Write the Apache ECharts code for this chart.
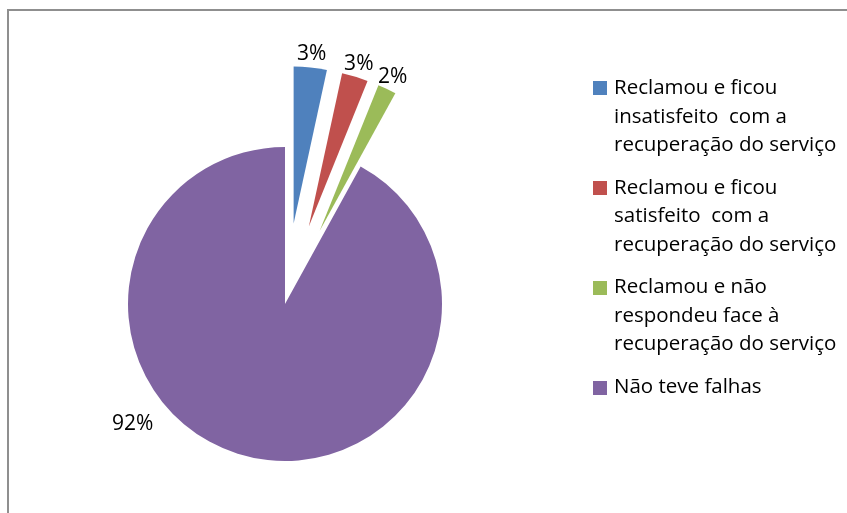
<!DOCTYPE html>
<html>
<head>
<meta charset="utf-8">
<script src="https://cdn.jsdelivr.net/npm/echarts@6/dist/echarts.min.js"></script>
<style>
html,body{margin:0;padding:0;background:#fff;}
#chart{width:847px;height:513px;}
</style>
</head>
<body>
<div id="chart"></div>
<script>
// ---- data ----
var categories = [
  'Reclamou e ficou insatisfeito com a recuperação do serviço',
  'Reclamou e ficou satisfeito com a recuperação do serviço',
  'Reclamou e não respondeu face à recuperação do serviço',
  'Não teve falhas'
];
var legendLines = [
  'Reclamou e ficou\ninsatisfeito  com a\nrecuperação do serviço',
  'Reclamou e ficou\nsatisfeito  com a\nrecuperação do serviço',
  'Reclamou e não\nrespondeu face à\nrecuperação do serviço',
  'Não teve falhas'
];
var values = [3.4, 2.7, 1.9, 92.0];
var exploded = [true, true, true, false];
var colors = ['#4F81BD', '#C0504D', '#9BBB59', '#8064A2'];

var FONT = '"Open Sans", Carlito, Lato, sans-serif';

var pieData = categories.map(function (c, i) {
  return { name: c, value: values[i], selected: exploded[i], itemStyle: { color: colors[i] } };
});

var chart = echarts.init(document.getElementById('chart'), null, { renderer: 'canvas' });
chart.setOption({
  animation: false,
  backgroundColor: '#ffffff',
  color: colors,
  graphic: [{
    type: 'rect',
    shape: { x: 8, y: 10, width: 1000, height: 700 },
    style: { fill: 'none', stroke: '#8f8f8f', lineWidth: 2 },
    silent: true
  }],
  legend: [{
    // icons
    orient: 'vertical',
    left: 593, top: 81,
    padding: 0,
    itemWidth: 14, itemHeight: 14,
    itemGap: 86,
    icon: 'rect',
    data: categories,
    formatter: function () { return ''; },
    textStyle: { fontSize: 8, lineHeight: 8 },
    itemStyle: { borderWidth: 0 }
  }, {
    // text
    orient: 'vertical',
    left: 609, top: 74,
    padding: 0,
    itemWidth: 0, itemHeight: 14,
    itemGap: 14,
    icon: 'none',
    data: categories,
    formatter: function (name) { return legendLines[categories.indexOf(name)]; },
    textStyle: { fontFamily: FONT, fontSize: 20.5, lineHeight: 28.5, color: '#000' }
  }],
  series: [{
    type: 'pie',
    center: [285, 304],
    radius: 157,
    startAngle: 90,
    clockwise: true,
    selectedMode: 'multiple',
    selectedOffset: 81,
    avoidLabelOverlap: false,
    emphasis: { scale: false, disabled: true },
    itemStyle: { borderWidth: 0 },
    label: {
      show: true,
      position: 'outside',
      fontFamily: FONT,
      fontSize: 21,
      color: '#000',
      distanceToLabelLine: 0,
      formatter: function (p) { return Math.round(p.percent) + '%'; }
    },
    labelLine: { show: false, length: 13, length2: 0 },
    labelLayout: function (p) {
      var o = { align: 'center', verticalAlign: 'middle' };
      if (p.dataIndex === 3) { o.dx = -110; o.dy = -45; }
      return o;
    },
    data: pieData
  }]
});
</script>
</body>
</html>
